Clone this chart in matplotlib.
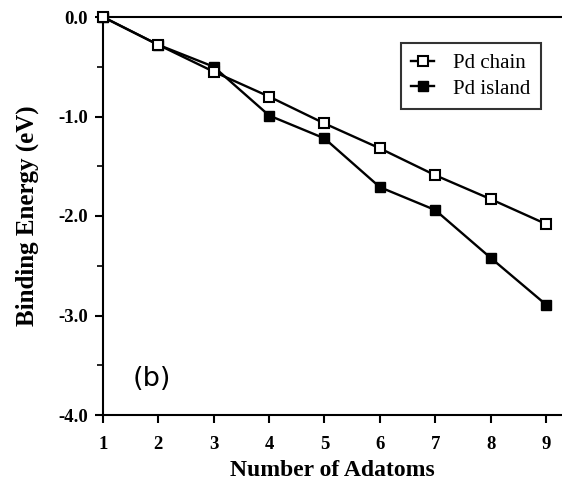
import matplotlib
matplotlib.use("Agg")
import matplotlib.pyplot as plt
from matplotlib.ticker import MultipleLocator

# Binding energy vs number of adatoms
adatoms = [1, 2, 3, 4, 5, 6, 7, 8, 9]
pd_chain = [0.0, -0.28, -0.55, -0.80, -1.07, -1.32, -1.59, -1.83, -2.08]
pd_island = [0.0, -0.28, -0.50, -0.99, -1.22, -1.71, -1.94, -2.42, -2.89]
y_ticks = [0.0, -1.0, -2.0, -3.0, -4.0]

plt.rcParams["font.family"] = ["Liberation Serif", "DejaVu Serif"]

fig = plt.figure(figsize=(5.62, 4.8), dpi=100)
ax = fig.add_axes([103 / 562, 1 - 415 / 480, 1 - 103 / 562, (415 - 17) / 480])

ax.plot(adatoms, pd_chain, color="black", lw=1.7, marker="s", ms=7,
        mfc="white", mec="black", mew=1.5, label="Pd chain", clip_on=False, zorder=3)
ax.plot(adatoms, pd_island, color="black", lw=1.7, marker="s", ms=7,
        mfc="black", mec="black", label="Pd island", clip_on=False, zorder=2)

ax.set_xlim(1, 9.29)
ax.set_ylim(-4, 0)
ax.set_xticks(adatoms)
ax.set_yticks(y_ticks)
ax.set_yticklabels([f"{v:.1f}" for v in y_ticks])
ax.yaxis.set_minor_locator(MultipleLocator(0.5))

ax.spines["right"].set_visible(False)
for s in ["left", "top", "bottom"]:
    ax.spines[s].set_linewidth(1.5)

ax.tick_params(axis="both", which="major", direction="out", length=6, width=1.5,
               labelsize=13.5)
ax.tick_params(axis="x", which="major", pad=9)
ax.tick_params(axis="y", which="major", pad=5)
ax.tick_params(axis="y", which="minor", direction="out", length=4, width=1.2)
for lab in ax.get_xticklabels() + ax.get_yticklabels():
    lab.set_fontweight("bold")

ax.set_xlabel("Number of Adatoms", fontsize=17, fontweight="bold")
ax.set_ylabel("Binding Energy (eV)", fontsize=18, fontweight="bold")
ax.xaxis.set_label_coords(0.5, -45 / 398, transform=ax.transAxes)
ax.yaxis.set_label_coords(-64 / 459, 0.5, transform=ax.transAxes)

ax.text(0.065, 0.09, "(b)", transform=ax.transAxes, fontsize=19.5,
        family="DejaVu Sans", va="center", ha="left")

leg = ax.legend(loc="upper right", bbox_to_anchor=(0.954, 0.935), borderaxespad=0,
                fontsize=15, frameon=True, fancybox=False, edgecolor="black",
                handlelength=1.1, borderpad=0.5, labelspacing=0.3, handletextpad=0.9)
leg.get_frame().set_linewidth(1.5)

fig.savefig("out.png", dpi=100)
